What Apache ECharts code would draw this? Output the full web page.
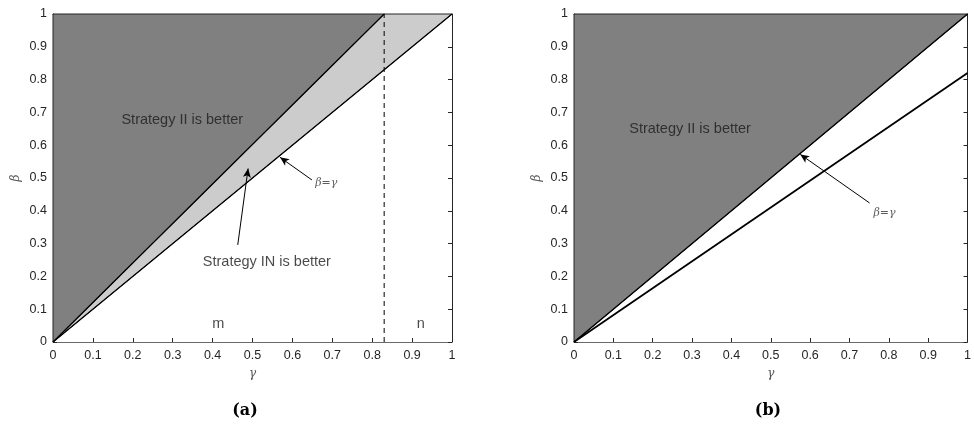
<!DOCTYPE html>
<html>
<head>
<meta charset="utf-8">
<script src="https://cdn.jsdelivr.net/npm/echarts@6/dist/echarts.min.js"></script>
<style>html,body{margin:0;padding:0;background:#fff}#c{width:974px;height:424px}</style>
</head>
<body>
<div id="c"></div>
<script>
// ---- data (γ, β) ----
const xTicks = [0, 0.1, 0.2, 0.3, 0.4, 0.5, 0.6, 0.7, 0.8, 0.9, 1];
const gammaThresholdA = 0.83;
const darkRegionA = [[0, 0], [0.83, 1], [0, 1]];
const lightRegionA = [[0, 0], [1, 1], [0.83, 1]];
const boundaryA = [[0, 0], [0.83, 1]];
const diagonal = [[0, 0], [1, 1]];
const dashedA = [[0.83, 0], [0.83, 1]];
const darkRegionB = [[0, 0], [1, 1], [0, 1]];
const lowerLineB = [[0, 0], [1, 0.82]];
// annotations: [γ, β, text]
const textsA = [[0.324, 0.677, 'Strategy II is better'], [0.536, 0.245, 'Strategy IN is better'], [0.414, 0.055, 'm'], [0.922, 0.055, 'n']];
const greekA = [[0.685, 0.484, 'β=γ']];
const textsB = [[0.295, 0.648, 'Strategy II is better']];
const greekB = [[0.789, 0.393, 'β=γ']];
// arrows: [tailγ, tailβ, headγ, headβ]
const arrowsA = [[0.649, 0.494, 0.569, 0.563], [0.463, 0.296, 0.489, 0.529]];
const arrowsB = [[0.751, 0.424, 0.575, 0.572]];

const axisDark = '#262626';
function polySeries(gi, pts, color) {
  return {
    type: 'custom', xAxisIndex: gi * 2, yAxisIndex: gi * 2, z: 1, silent: true,
    data: pts,
    renderItem: function (params, api) {
      if (params.dataIndex !== 0) return null;
      return {
        type: 'polygon',
        shape: { points: pts.map(p => api.coord(p)) },
        style: { fill: color, stroke: axisDark, lineWidth: 1 }
      };
    }
  };
}
function lineSeries(gi, pts, width, dashed, arrows) {
  const s = {
    type: 'line', xAxisIndex: gi * 2, yAxisIndex: gi * 2, z: 3, silent: true,
    data: pts, symbol: 'none', animation: false,
    lineStyle: { color: '#000', width: width, type: dashed ? [5, 4] : 'solid' }
  };
  if (arrows) {
    s.markLine = {
      silent: true, animation: false, symbol: ['none', 'arrow'], symbolSize: [6, 9],
      label: { show: false },
      lineStyle: { color: '#000', width: 1, type: 'solid' },
      data: arrows.map(a => [{ coord: [a[0], a[1]] }, { coord: [a[2], a[3]] }])
    };
  }
  return s;
}
function textSeries(gi, items, greek) {
  return {
    type: 'scatter', xAxisIndex: gi * 2, yAxisIndex: gi * 2, z: 5, silent: true,
    symbolSize: 0, animation: false,
    data: items.map(t => ({ value: [t[0], t[1]], name: t[2] })),
    label: {
      show: true, position: 'inside', formatter: p => p.name,
      color: greek ? '#333' : '#1a1a1a',
      fontFamily: greek ? '"DejaVu Serif", serif' : '"Liberation Sans", Arial, sans-serif',
      fontStyle: greek ? 'italic' : 'normal',
      fontSize: greek ? 11 : 14.5
    }
  };
}
function axesFor(gi) {
  const common = { min: 0, max: 1, interval: 0.1, gridIndex: gi, splitLine: { show: false } };
  const x = [
    Object.assign({}, common, {
      type: 'value', position: 'bottom', name: 'γ', nameLocation: 'middle', nameGap: 26,
      nameTextStyle: { fontFamily: '"DejaVu Serif", serif', fontStyle: 'italic', fontSize: 12, color: '#555' },
      axisLine: { lineStyle: { color: '#6a6a6a', width: 1 } },
      axisTick: { inside: true, length: 4, lineStyle: { color: axisDark } },
      axisLabel: { margin: 7, fontSize: 12.5, color: '#262626', fontFamily: '"Liberation Sans", Arial, sans-serif',
        formatter: v => String(+v.toFixed(1)) }
    }),
    Object.assign({}, common, {
      type: 'value', position: 'top',
      axisLine: { show: true, onZero: false, lineStyle: { color: axisDark, width: 1 } },
      axisTick: { inside: true, length: 4, lineStyle: { color: axisDark } },
      axisLabel: { show: false }
    })
  ];
  const y = [
    Object.assign({}, common, {
      type: 'value', position: 'left', name: 'β', nameLocation: 'middle', nameGap: 31, nameRotate: 90,
      nameTextStyle: { fontFamily: '"DejaVu Serif", serif', fontStyle: 'italic', fontSize: 12, color: '#555' },
      axisLine: { show: true, lineStyle: { color: axisDark, width: 1 } },
      axisTick: { inside: true, length: 4, lineStyle: { color: axisDark } },
      axisLabel: { margin: 6, fontSize: 12.5, color: '#262626', fontFamily: '"Liberation Sans", Arial, sans-serif',
        formatter: v => String(+v.toFixed(1)) }
    }),
    Object.assign({}, common, {
      type: 'value', position: 'right',
      axisLine: { show: true, onZero: false, lineStyle: { color: axisDark, width: 1 } },
      axisTick: { inside: true, length: 4, lineStyle: { color: axisDark } },
      axisLabel: { show: false }
    })
  ];
  return { x, y };
}
const a0 = axesFor(0), a1 = axesFor(1);
const chart = echarts.init(document.getElementById('c'), null, { renderer: 'canvas' });
chart.setOption({
  animation: false,
  backgroundColor: '#fff',
  title: [
    { text: '(a)', left: 240, top: 398, textAlign: 'center',
      textStyle: { fontFamily: '"DejaVu Serif", serif', fontWeight: 'bold', fontSize: 16, color: '#000' } },
    { text: '(b)', left: 763, top: 398, textAlign: 'center',
      textStyle: { fontFamily: '"DejaVu Serif", serif', fontWeight: 'bold', fontSize: 16, color: '#000' } }
  ],
  grid: [
    { left: 53, top: 14, width: 399, height: 328 },
    { left: 574, top: 14, width: 398, height: 328 }
  ],
  xAxis: [a0.x[0], a0.x[1], a1.x[0], a1.x[1]],
  yAxis: [a0.y[0], a0.y[1], a1.y[0], a1.y[1]],
  series: [
    polySeries(0, lightRegionA, '#cccccc'),
    polySeries(0, darkRegionA, '#808080'),
    lineSeries(0, boundaryA, 1.2, false),
    lineSeries(0, diagonal, 1.2, false, arrowsA),
    lineSeries(0, dashedA, 1, true),
    textSeries(0, textsA, false),
    textSeries(0, greekA, true),
    polySeries(1, darkRegionB, '#808080'),
    lineSeries(1, diagonal, 1.4, false, arrowsB),
    lineSeries(1, lowerLineB, 1.8, false),
    textSeries(1, textsB, false),
    textSeries(1, greekB, true)
  ]
});
</script>
</body>
</html>
